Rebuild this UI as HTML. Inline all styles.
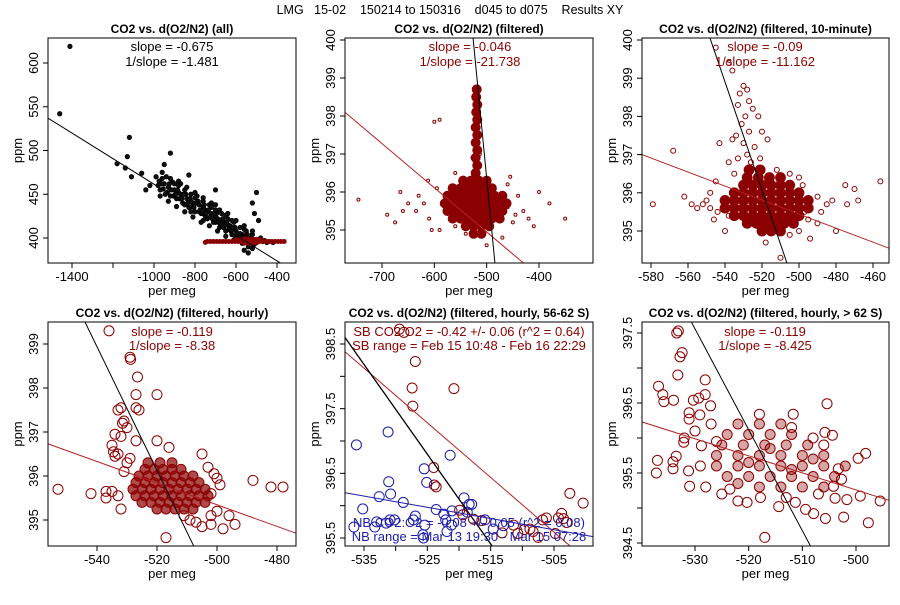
<!DOCTYPE html>
<html><head><meta charset="utf-8"><style>
body{margin:0;background:#fff;}
svg text{font-family:"Liberation Sans",Arial,sans-serif;}
</style></head><body>
<svg id="chart" width="900" height="600" viewBox="0 0 900 600" xmlns="http://www.w3.org/2000/svg">
<rect width="900" height="600" fill="#fff"/>
<text x="450" y="14" text-anchor="middle" font-size="12.5" fill="#000" xml:space="preserve">LMG   15-02    150214 to 150316    d045 to d075    Results XY</text>
</svg>
<script>
// ---------- data ----------
const p1Black=[[-1410,619],[-1460,542],[-1120,515],[-1130,493],[-1110,470],[-1180,485],[-1140,480],[-1060,474],[-920,497],[-950,484],[-830,472],[-700,455],[-500,452],[-520,440],[-510,428],[-490,420],[-560,386],[-540,383],
[-990,470],[-980,460],[-970,455],[-960,468],[-950,462],[-945,450],[-930,458],[-920,448],[-910,464],[-900,455],[-890,445],[-880,460],[-870,450],[-860,440],[-850,455],[-840,445],[-830,435],[-820,450],[-810,440],[-800,430],[-790,448],[-780,438],[-770,428],[-760,442],[-750,432],[-740,422],[-730,438],[-720,428],[-710,418],[-700,432],[-690,422],[-680,412],[-670,428],[-660,418],[-650,408],[-640,422],[-630,414],[-620,404],[-610,418],[-600,408],[-590,400],[-580,412],[-570,404],[-560,398],[-550,408],[-540,400],[-530,395],[-520,404],[-510,398],[-500,396],[-480,400],[-460,397],[-440,396],[-420,395],[-900,462],[-850,438],[-800,446],[-750,425],[-700,418],[-650,426],[-600,402],[-880,452],[-820,442],[-760,435],[-720,435],[-680,420],[-640,415],[-620,410],[-580,405],[-560,402],[-540,396],[-780,430],[-740,430],[-700,425],[-660,412],[-760,420],[-820,430],[-870,462],[-940,470],[-1020,460],[-1040,455],[-965,462],[-935,452],[-905,448],[-875,445],[-845,450],[-815,436],[-785,442],[-755,438],[-725,424],[-695,428],[-665,422],[-635,410],[-605,412],[-575,398],[-545,404],[-515,392],[-700,438],[-620,420],[-560,410],[-540,390],[-520,388],
[-975,465],[-955,456],[-925,462],[-915,455],[-895,450],[-885,455],[-865,445],[-855,450],[-835,440],[-825,445],[-805,435],[-795,440],[-775,432],[-765,428],[-745,428],[-735,432],[-715,422],[-705,428],[-685,418],[-675,415],[-655,415],[-645,418],[-625,408],[-615,412],[-595,405],[-585,402],[-565,400],[-555,402],[-535,398],[-525,400],[-505,394],[-495,398],[-470,396],[-450,395],
[-960,475],[-920,468],[-880,465],[-840,458],[-800,452],[-760,446],[-720,440],[-680,432],[-640,428],[-600,420],[-560,414],[-520,408],
[-970,448],[-930,442],[-890,436],[-850,430],[-810,424],[-770,418],[-730,414],[-690,408],[-650,402],[-610,398],[-570,394]];
const p1Red=[[-740,396],[-725,396],[-710,396],[-695,396],[-680,396],[-665,396],[-650,396],[-635,396],[-620,396],[-605,396],[-590,396],[-575,396],[-560,396],[-545,396],[-530,396],[-515,396],[-500,396],[-485,396],[-470,396],[-455,396],[-440,396],[-425,396],[-410,396],[-395,396],[-380,396],[-365,396],[-600,398],[-580,398],[-560,399],[-540,399],[-520,398.5],[-500,398.5],[-480,398],[-560,394],[-540,394],[-520,394],[-500,394.5],[-750,395]];
const p1Fit=[[-1517,537],[-360,368]];

const p2Open=[[-745,395.8],[-690,395.4],[-675,395.2],[-665,396.0],[-660,395.5],[-650,395.7],[-635,395.5],[-630,395.9],[-612,396.3],[-605,395.0],[-590,395.0],[-600,397.85],[-590,397.9],[-560,396.5],[-460,396.2],[-440,395.9],[-420,395.3],[-400,396.0],[-380,395.7],[-350,395.3],[-470,394.8],[-500,394.6],[-540,394.9],[-560,395.1],[-580,395.6],[-480,395.4],[-460,395.6],[-450,395.2],[-430,395.5],[-410,395.1],[-620,395.7],[-610,395.3],[-595,396.1],[-455,396.4],[-445,395.4],[-508,396.0],[-525,397.3],[-513,397.0],[-527,396.9],[-514,398.3],[-524,398.5]];
const p2Dense=[[-540,395.1],[-525,395.1],[-510,395.1],[-495,395.1],
[-565,395.3],[-550,395.3],[-535,395.3],[-520,395.3],[-505,395.3],[-490,395.3],[-475,395.3],
[-575,395.5],[-560,395.5],[-545,395.5],[-530,395.5],[-515,395.5],[-500,395.5],[-485,395.5],[-470,395.5],
[-580,395.7],[-565,395.7],[-550,395.7],[-535,395.7],[-520,395.7],[-505,395.7],[-490,395.7],[-475,395.7],[-462,395.7],
[-575,395.9],[-560,395.9],[-545,395.9],[-530,395.9],[-515,395.9],[-500,395.9],[-485,395.9],[-470,395.9],
[-565,396.1],[-550,396.1],[-535,396.1],[-520,396.1],[-505,396.1],[-490,396.1],
[-545,396.3],[-530,396.3],[-515,396.3],[-500,396.3],[-525,394.9],[-510,394.9],
[-521,396.5],[-518,396.7],[-521,396.9],[-518,397.1],[-521,397.3],[-518,397.5],[-521,397.7],[-518,397.9],[-520,398.1],[-518,398.3],[-520,398.5],[-519,398.7]];
const p2FitRed=[[-771,398.1],[-427,394.1]];
const p2FitBlack=[[-526,400.05],[-484,394.1]];

const p3Open=[[-530,398.8],[-528,398.7],[-532,398.6],[-527,398.4],[-533,398.3],[-525,398.2],[-529,398.0],[-522,398.0],[-531,397.8],[-527,397.6],[-534,397.5],[-536,397.4],[-530,397.3],[-524,397.2],[-520,397.6],[-517,397.4],[-528,397.0],[-533,396.9],[-538,396.8],[-526,396.8],[-521,396.9],
[-579,395.7],[-568,397.1],[-562,395.9],[-558,395.7],[-550,395.8],[-548,395.6],[-545,396.3],[-543,397.3],[-540,395.0],[-546,395.3],[-555,395.6],[-538,395.4],[-536,399.2],[-538,399.4],[-545,399.8],[-490,395.9],[-485,395.7],[-482,395.8],[-475,396.2],[-470,396.1],[-456,396.3],[-468,395.8],[-474,395.7],[-495,395.3],[-490,395.2],[-494,394.8],[-480,395.0],[-510,394.3],[-518,394.7],[-505,394.9],[-500,395.0],[-497,395.5],[-488,395.5],[-544,395.5],[-500,396.4],[-505,396.5],[-548,396.0],[-552,395.7],[-535,396.5],[-512,396.6],[-498,396.2]];
const p3Dense=[[-520,395.0],[-515,395.0],[-510,395.0],
[-528,395.2],[-523,395.2],[-518,395.2],[-513,395.2],[-508,395.2],[-503,395.2],
[-535,395.4],[-530,395.4],[-525,395.4],[-520,395.4],[-515,395.4],[-510,395.4],[-505,395.4],[-500,395.4],
[-540,395.6],[-535,395.6],[-530,395.6],[-525,395.6],[-520,395.6],[-515,395.6],[-510,395.6],[-505,395.6],[-500,395.6],[-495,395.6],
[-540,395.8],[-535,395.8],[-530,395.8],[-525,395.8],[-520,395.8],[-515,395.8],[-510,395.8],[-505,395.8],[-500,395.8],[-495,395.8],
[-535,396.0],[-530,396.0],[-525,396.0],[-520,396.0],[-515,396.0],[-510,396.0],[-505,396.0],[-500,396.0],
[-530,396.2],[-525,396.2],[-520,396.2],[-515,396.2],[-510,396.2],[-505,396.2],
[-528,396.4],[-522,396.4],[-516,396.4],[-510,396.4],[-527,396.6],[-521,396.6]];
const p3FitRed=[[-584.9,397.0],[-451.4,394.55]];
const p3FitBlack=[[-548.1,400.05],[-506.5,394.16]];

const p4Open=[[-536,399.3],[-529,398.7],[-528.8,398.65],[-526.5,398.25],[-527,397.85],[-520,397.85],[-527,397.55],[-526,397.5],[-533,397.5],[-532,397.55],[-531,397.25],[-531.5,397.2],[-530,397.1],[-534,396.95],[-532,396.9],[-535,396.7],[-534.5,396.55],[-534,396.45],[-533,396.5],[-520,396.8],[-516,396.65],[-505,396.5],[-553,395.7],[-542,395.6],[-537,395.5],[-537,395.65],[-535,395.65],[-533,395.55],[-532,395.25],[-488,395.9],[-482,395.75],[-478,395.75],[-502,395.6],[-500,395.95],[-499,395.8],[-501,396.05],[-503,396.2],[-494,394.9],[-498,394.8],[-505,394.85],[-507,394.95],[-502,395.1],[-502,394.9],[-517,394.6],[-496,395.1],[-500,395.2],[-509,395.0],[-511,395.1],[-530,396.3],[-531,396.1],[-529,396.4],[-527,396.8]];
const p4Core=[[-520,395.25],[-517,395.25],[-514,395.25],[-511,395.25],[-508,395.25],
[-525,395.4],[-522,395.4],[-519,395.4],[-516,395.4],[-513,395.4],[-510,395.4],[-507,395.4],[-504,395.4],
[-527,395.55],[-524,395.55],[-521,395.55],[-518,395.55],[-515,395.55],[-512,395.55],[-509,395.55],[-506,395.55],[-503,395.55],
[-528,395.7],[-525,395.7],[-522,395.7],[-519,395.7],[-516,395.7],[-513,395.7],[-510,395.7],[-507,395.7],[-504,395.7],
[-527,395.85],[-524,395.85],[-521,395.85],[-518,395.85],[-515,395.85],[-512,395.85],[-509,395.85],[-506,395.85],
[-526,396.0],[-523,396.0],[-520,396.0],[-517,396.0],[-514,396.0],[-511,396.0],[-508,396.0],
[-524,396.15],[-521,396.15],[-518,396.15],[-515,396.15],[-512,396.15],[-523,396.3],[-519,396.3],[-515,396.3]];
const p4FitRed=[[-556.3,396.73],[-473.7,394.7]];
const p4FitBlack=[[-544,399.5],[-507.7,394.4]];

const p5Red=[[-529.4,398.73],[-528.7,398.68],[-526.9,398.23],[-527.4,397.82],[-520.8,397.81],[-527.3,397.54],[-524.0,396.59],[-523.9,396.32],[-523.6,396.29],[-519.9,395.93],[-519.4,395.86],[-517.7,395.79],[-516.4,395.77],[-513.2,395.58],[-510.7,395.57],[-509.7,395.63],[-508.8,395.64],[-508.3,395.6],[-507.5,395.51],[-506.8,395.78],[-506.2,395.81],[-504.8,395.57],[-503.8,395.88],[-503.5,395.8],[-503.0,395.74],[-502.5,396.19],[-500.4,396.04],[-511.4,395.7],[-504.3,395.81]];
const p5Blue=[[-536.2,396.94],[-531.2,397.14],[-521.4,396.78],[-525.5,396.57],[-531.1,396.37],[-525.1,396.36],[-530.8,396.18],[-532.6,396.14],[-528.8,396.05],[-535.2,395.95],[-523.6,395.94],[-519.2,396.12],[-518.4,396.02],[-518.0,396.02],[-522.4,395.87],[-521.1,395.92],[-522.1,395.78],[-526.9,395.84],[-530.9,395.78],[-533.0,395.75],[-531.5,395.73],[-525.4,395.70],[-521.2,395.70],[-521.9,395.6],[-527.2,395.78],[-536.6,395.67],[-533.3,395.67],[-525.7,395.55],[-525.6,395.5],[-514.6,395.64],[-513.0,395.69],[-515.9,395.78],[-530.2,395.78],[-518.7,395.9]];
const p5FitRed=[[-538,398.38],[-502.5,395.38]];
const p5FitBlack=[[-538,398.6],[-514.8,395.38]];
const p5FitBlue=[[-538,396.2],[-498.8,395.52]];

const p6Open=[[-533.4,397.5],[-533.1,397.53],[-532.8,397.16],[-532.4,397.22],[-533.2,396.9],[-528.1,396.83],[-528.1,396.62],[-536.8,396.74],[-536.0,396.62],[-535.8,396.52],[-534,396.54],[-530.3,396.54],[-529.3,396.57],[-531.1,396.36],[-531.1,396.27],[-529.1,396.33],[-527.1,396.46],[-505.4,396.49],[-511.7,396.34],[-518,396.34],[-504.4,396.04],[-505.8,396.08],[-537.2,395.5],[-537.0,395.68],[-534.1,395.66],[-534.1,395.56],[-533.5,395.74],[-531.2,395.53],[-531.0,395.31],[-532.1,395.94],[-528.8,395.89],[-499.6,395.71],[-498.2,395.78],[-499.2,395.17],[-495.5,395.1],[-497.7,394.79],[-502.3,394.87],[-505.7,394.85],[-507.9,394.92],[-509.4,394.98],[-514.4,395.02],[-517,394.58],[-511.3,395.08],[-520.3,395.08],[-517.8,395.15],[-503.9,395.14],[-501.7,395.12],[-523.5,395.27],[-504.2,395.31],[-502.7,395.41],[-503.3,395.56],[-532,396.0],[-530,396.1],[-527,396.2],[-526,395.95],[-529,395.6],[-528,395.3],[-512,396.15],[-508,396.0],[-506,395.9],[-507,395.2],[-513,395.15],[-522,395.1],[-525,395.2]];
const p6Core=[[-518,395.3],[-514,395.3],[-510,395.3],[-506,395.3],
[-524,395.45],[-520,395.45],[-516,395.45],[-512,395.45],[-508,395.45],[-504,395.45],
[-526,395.6],[-522,395.6],[-518,395.6],[-514,395.6],[-510,395.6],[-506,395.6],[-502,395.6],
[-526,395.75],[-522,395.75],[-518,395.75],[-514,395.75],[-510,395.75],[-506,395.75],
[-525,395.9],[-521,395.9],[-517,395.9],[-513,395.9],[-509,395.9],
[-524,396.05],[-520,396.05],[-516,396.05],[-512,396.05],[-522,396.2],[-518,396.2],[-514,396.2],
[-520,395.65],[-516,395.85],[-512,395.55],[-522,395.35],[-508,395.7]];
const p6FitRed=[[-539.9,396.23],[-493.9,395.11]];
const p6FitBlack=[[-530.7,397.66],[-508.5,394.46]];

const p1XTicks=[-1400,-1200,-1000,-800,-600,-400], p1XLabels=["-1400","","-1000","-800","-600","-400"];
const p1YTicks=[400,450,500,550,600];
const p2XTicks=[-700,-600,-500,-400], p2YTicks=[395,396,397,398,399,400];
const p3XTicks=[-580,-560,-540,-520,-500,-480,-460], p3YTicks=[395,396,397,398,399,400];
const p4XTicks=[-540,-520,-500,-480], p4YTicks=[395,396,397,398,399];
const p5XTicks=[-535,-530,-525,-520,-515,-510,-505], p5XLabels=["-535","","-525","","-515","","-505"];
const p5YTicks=[395.5,396,396.5,397,397.5,398,398.5], p5YLabels=["395.5","","396.5","","397.5","","398.5"];
const p6XTicks=[-530,-520,-510,-500];
const p6YTicks=[394.5,395,395.5,396,396.5,397,397.5], p6YLabels=["394.5","","395.5","","396.5","","397.5"];

// ---------- drawing ----------
const NS="http://www.w3.org/2000/svg";
const svg=document.getElementById('chart');
function mk(tag,attrs,parent){const e=document.createElementNS(NS,tag);for(const k in attrs)e.setAttribute(k,attrs[k]);(parent||svg).appendChild(e);return e;}
const RED="#8b0000", LRED="#b22222", BLUE="#1c1ca8";

function panel(id,cfg){
  const g=mk('g',{});
  
  
  const sx=v=>cfg.xa[1]+(v-cfg.xa[0])*(cfg.xa[3]-cfg.xa[1])/(cfg.xa[2]-cfg.xa[0]);
  const sy=v=>cfg.ya[1]+(v-cfg.ya[0])*(cfg.ya[3]-cfg.ya[1])/(cfg.ya[2]-cfg.ya[0]);
  const cp=mk('clipPath',{id:id+'-clip'},g);
  mk('rect',{x:cfg.b[0],y:cfg.b[2],width:cfg.b[1]-cfg.b[0],height:cfg.b[3]-cfg.b[2]},cp);
  const plot=mk('g',{'clip-path':'url(#'+id+'-clip)'},g);
  
  
  return {g,plot,sx,sy,cfg};
}
function pts(P,arr,name,color,r,fill,sw){
  arr.forEach(d=>{const c=mk('circle',{cx:P.sx(d[0]),cy:P.sy(d[1]),r:r,fill:fill||'none',stroke:color,'stroke-width':sw||1},P.plot);
    
    });
}
function fit(P,arr,name,color,w){
  const l=mk('line',{x1:P.sx(arr[0][0]),y1:P.sy(arr[0][1]),x2:P.sx(arr[1][0]),y2:P.sy(arr[1][1]),stroke:color,'stroke-width':w||1},P.plot);
  
  
}
function txt(parent,x,y,s,opt){const t=mk('text',Object.assign({x:x,y:y,'text-anchor':'middle','font-size':13,fill:'#000'},opt||{}),parent);t.textContent=s;return t;}
function frame(P,title,xt,xl,yt,yl){
  const c=P.cfg,g=P.g;
  const fr=mk('rect',{x:c.b[0],y:c.b[2],width:c.b[1]-c.b[0],height:c.b[3]-c.b[2],fill:'none',stroke:'#000','stroke-width':1},g);
  
  
  const t=txt(g,(c.b[0]+c.b[1])/2,c.b[2]-5,title,{'font-weight':'bold','font-size':12});
  
  
  mk('line',{x1:P.sx(xt[0]),x2:P.sx(xt[xt.length-1]),y1:c.b[3],y2:c.b[3],stroke:'#000'},g);
  xt.forEach((v,i)=>{const x=P.sx(v);mk('line',{x1:x,x2:x,y1:c.b[3],y2:c.b[3]+5,stroke:'#000'},g);
    const s=xl?xl[i]:String(v); if(s){const tt=txt(g,x,c.b[3]+18,s);
    
    }});
  mk('line',{x1:c.b[0],x2:c.b[0],y1:P.sy(yt[0]),y2:P.sy(yt[yt.length-1]),stroke:'#000'},g);
  yt.forEach((v,i)=>{const y=P.sy(v);mk('line',{x1:c.b[0]-5,x2:c.b[0],y1:y,y2:y,stroke:'#000'},g);
    const s=yl?yl[i]:String(v); if(s){const x=c.b[0]-10;const tt=txt(g,x,y,s,{transform:'rotate(-90 '+x+' '+y+')'});
    
    }});
  const xa=txt(g,(c.b[0]+c.b[1])/2,c.b[3]+32,'per meg');
  
  
  const yx=c.b[0]-26,yy=(c.b[2]+c.b[3])/2;
  const ya=txt(g,yx,yy,'ppm',{transform:'rotate(-90 '+yx+' '+yy+')'});
  
  
}
function note(P,x,y,s,color,name){const t=txt(P.g,x,y,s,{fill:color,'font-size':13});
  
  }

// Panel 1
const P1=panel('panel-all',{b:[48,296,38,263],xa:[-1400,72,-400,277],ya:[600,63,400,238]});
pts(P1,p1Black,'point-all','#000',2.2,'#111',0.8);
pts(P1,p1Red,'point-filtered',RED,2,RED,1);
fit(P1,p1Fit,'fit-line','#000');
frame(P1,'CO2 vs. d(O2/N2) (all)',p1XTicks,p1XLabels,p1YTicks);
note(P1,172,51,'slope = -0.675','#000','slope-label');
note(P1,172,66,'1/slope = -1.481','#000','inverse-slope-label');

// Panel 2
const P2=panel('panel-filtered',{b:[345,593,38,263],xa:[-700,382,-400,539],ya:[400,40,395,230]});
pts(P2,p2Dense,'point-filtered-dense',RED,4.6,RED,0.8);
pts(P2,p2Open,'point-filtered',RED,1.5,'none',1);
fit(P2,p2FitRed,'fit-line-red',LRED);
fit(P2,p2FitBlack,'fit-line-black','#000');
frame(P2,'CO2 vs. d(O2/N2) (filtered)',p2XTicks,null,p2YTicks);
note(P2,470,51,'slope = -0.046',RED,'slope-label');
note(P2,470,66,'1/slope = -21.738',RED,'inverse-slope-label');

// Panel 3
const P3=panel('panel-10-minute',{b:[642,889,38,263],xa:[-580,651,-460,873],ya:[400,40,395,231]});
pts(P3,p3Dense,'point-10min-dense',RED,5,RED,0.8);
pts(P3,p3Open,'point-10min',RED,2.5,'none',1);
fit(P3,p3FitRed,'fit-line-red',LRED);
fit(P3,p3FitBlack,'fit-line-black','#000');
frame(P3,'CO2 vs. d(O2/N2) (filtered, 10-minute)',p3XTicks,null,p3YTicks);
note(P3,765,51,'slope = -0.09',RED,'slope-label');
note(P3,765,66,'1/slope = -11.162',RED,'inverse-slope-label');

// Panel 4
const P4=panel('panel-hourly',{b:[48,296,322,546],xa:[-540,97,-480,277],ya:[399,344,395,520]});
pts(P4,p4Core,'point-hourly',RED,5,'rgba(139,0,0,0.7)',1);
pts(P4,p4Open,'point-hourly',RED,5,'none',1);
fit(P4,p4FitRed,'fit-line-red',LRED);
fit(P4,p4FitBlack,'fit-line-black','#000');
frame(P4,'CO2 vs. d(O2/N2) (filtered, hourly)',p4XTicks,null,p4YTicks);
note(P4,172,336,'slope = -0.119',RED,'slope-label');
note(P4,172,350,'1/slope = -8.38',RED,'inverse-slope-label');

// Panel 5
const P5=panel('panel-56-62S',{b:[345,593,322,546],xa:[-535,364,-505,554],ya:[398.5,344,395.5,538]});
pts(P5,p5Red,'point-sb',RED,5,'none',1);
pts(P5,p5Blue,'point-nb',BLUE,5,'none',1);
fit(P5,p5FitRed,'fit-line-sb',LRED);
fit(P5,p5FitBlack,'fit-line-black','#000',1.3);
fit(P5,p5FitBlue,'fit-line-nb',BLUE);
frame(P5,'CO2 vs. d(O2/N2) (filtered, hourly, 56-62 S)',p5XTicks,p5XLabels,p5YTicks,p5YLabels);
note(P5,469,336,'SB CO2:O2 = -0.42 +/- 0.06 (r^2 = 0.64)',RED,'sb-ratio-label');
note(P5,469,350,'SB range = Feb 15 10:48 - Feb 16 22:29',RED,'sb-range-label');
note(P5,469,527,'NB CO2:O2 = -0.08 +/- 0.05 (r^2 = 0.08)',BLUE,'nb-ratio-label');
note(P5,469,541,'NB range = Mar 13 19:30 - Mar 15 07:28',BLUE,'nb-range-label');

// Panel 6
const P6=panel('panel-gt-62S',{b:[642,889,322,546],xa:[-530,695,-500,856],ya:[397.5,333,394.5,543]});
pts(P6,p6Core,'point-gt62',RED,5,'rgba(139,0,0,0.35)',1);
pts(P6,p6Open,'point-gt62',RED,5,'none',1);
fit(P6,p6FitRed,'fit-line-red',LRED);
fit(P6,p6FitBlack,'fit-line-black','#000');
frame(P6,'CO2 vs. d(O2/N2) (filtered, hourly, > 62 S)',p6XTicks,null,p6YTicks,p6YLabels);
note(P6,765,336,'slope = -0.119',RED,'slope-label');
note(P6,765,350,'1/slope = -8.425',RED,'inverse-slope-label');
</script>
</body></html>
